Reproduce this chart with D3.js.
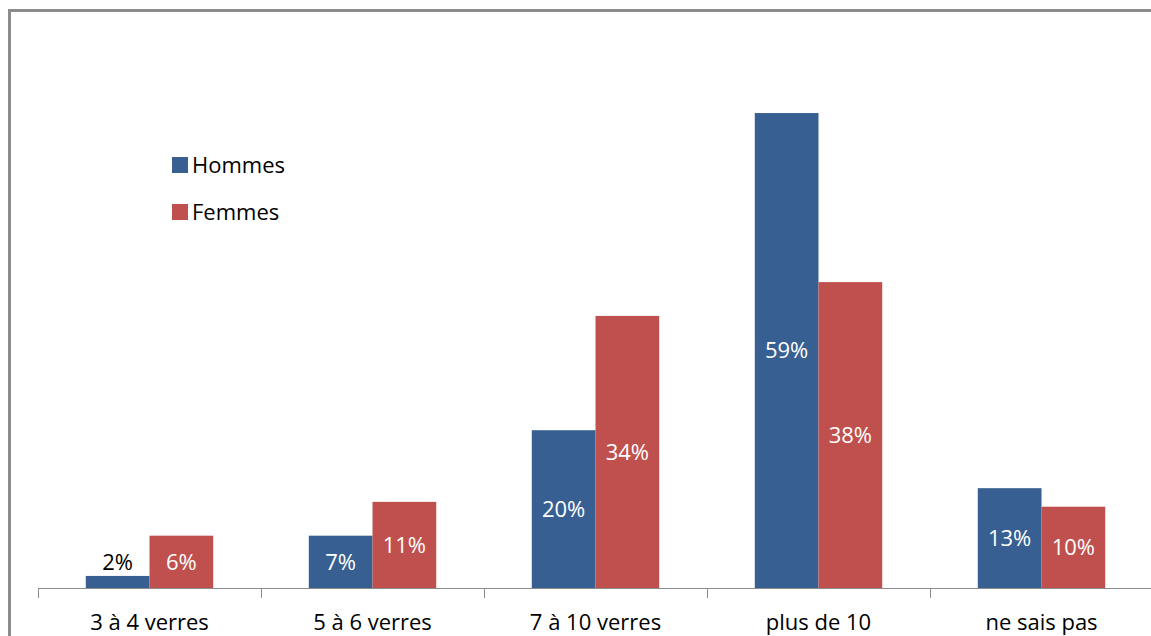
<!DOCTYPE html>
<html><head><meta charset="utf-8">
<script src="https://cdn.jsdelivr.net/npm/d3@7"></script>
<style>body{margin:0;background:#fff;} svg{display:block;}</style>
</head><body>
<svg id="c" width="1151" height="636"></svg>
<script>
const categories = ["3 à 4 verres","5 à 6 verres","7 à 10 verres","plus de 10","ne sais pas"];
const seriesNames = ["Hommes","Femmes"];
const hommes = [1.5, 6.5, 19.6, 59, 12.4];
const femmes = [6.5, 10.7, 33.8, 38, 10.1];
const hommesLabels = ["2%","7%","20%","59%","13%"];
const femmesLabels = ["6%","11%","34%","38%","10%"];
const colors = ["#375F91","#C0504D"];

const svg = d3.select("#c");
const font = "'Open Sans', sans-serif";
const fs = 22;

// frame
svg.append("path").attr("d","M9.5,636 L9.5,10.5 L1151,10.5").attr("fill","none").attr("stroke","#8c8c8c").attr("stroke-width",3);

const x = d3.scaleBand().domain(categories).range([38, 1153]).paddingInner(0).paddingOuter(0);
const xs = d3.scaleBand().domain(seriesNames).range([0, x.bandwidth()]).paddingInner(0).paddingOuter(0.75);
const y = d3.scaleLinear().domain([0,70]).range([588, 24.5]);

const data = categories.map((c,i)=>({c, vals:[{s:"Hommes",v:hommes[i],l:hommesLabels[i]},{s:"Femmes",v:femmes[i],l:femmesLabels[i]}]}));

const g = svg.append("g");
const groups = g.selectAll("g.cat").data(data).join("g").attr("transform",d=>`translate(${x(d.c)},0)`);
groups.selectAll("rect").data(d=>d.vals).join("rect")
  .attr("x",d=>xs(d.s)).attr("width",xs.bandwidth())
  .attr("y",d=>y(d.v)).attr("height",d=>y(0)-y(d.v))
  .attr("fill",(d,i)=>colors[i]);
groups.selectAll("text").data(d=>d.vals).join("text")
  .attr("x",d=>xs(d.s)+xs.bandwidth()/2)
  .attr("y",d=>{const h=y(0)-y(d.v); return h<24 ? y(d.v)-14 : (y(d.v)+y(0))/2;})
  .attr("dy","0.35em")
  .attr("text-anchor","middle")
  .attr("font-family",font).attr("font-size",fs)
  .attr("fill",d=>(y(0)-y(d.v))<24 ? "#000" : "#fff")
  .text(d=>d.l);

// axis
const ax = svg.append("g").attr("transform","translate(0,588)")
  .call(d3.axisBottom(x).tickSize(0).tickPadding(26));
ax.select(".domain").attr("stroke","#8c8c8c").attr("d","M38,0.5H1151");
ax.selectAll("text").attr("font-family",font).attr("font-size",fs).attr("fill","#000");
// tick marks at band edges
svg.append("g").selectAll("line").data(categories).join("line")
  .attr("x1",d=>x(d)+0.5).attr("x2",d=>x(d)+0.5).attr("y1",588).attr("y2",598)
  .attr("stroke","#8c8c8c");

// legend
const lg = svg.append("g").attr("transform","translate(172,155)");
const li = lg.selectAll("g").data(seriesNames).join("g").attr("transform",(d,i)=>`translate(0,${i*47})`);
li.append("rect").attr("width",16).attr("height",16).attr("y",2).attr("fill",(d,i)=>colors[i]);
li.append("text").attr("x",20).attr("y",10).attr("dy","0.35em").attr("font-family",font).attr("font-size",fs).attr("fill","#000").text(d=>d);
</script>
</body></html>
